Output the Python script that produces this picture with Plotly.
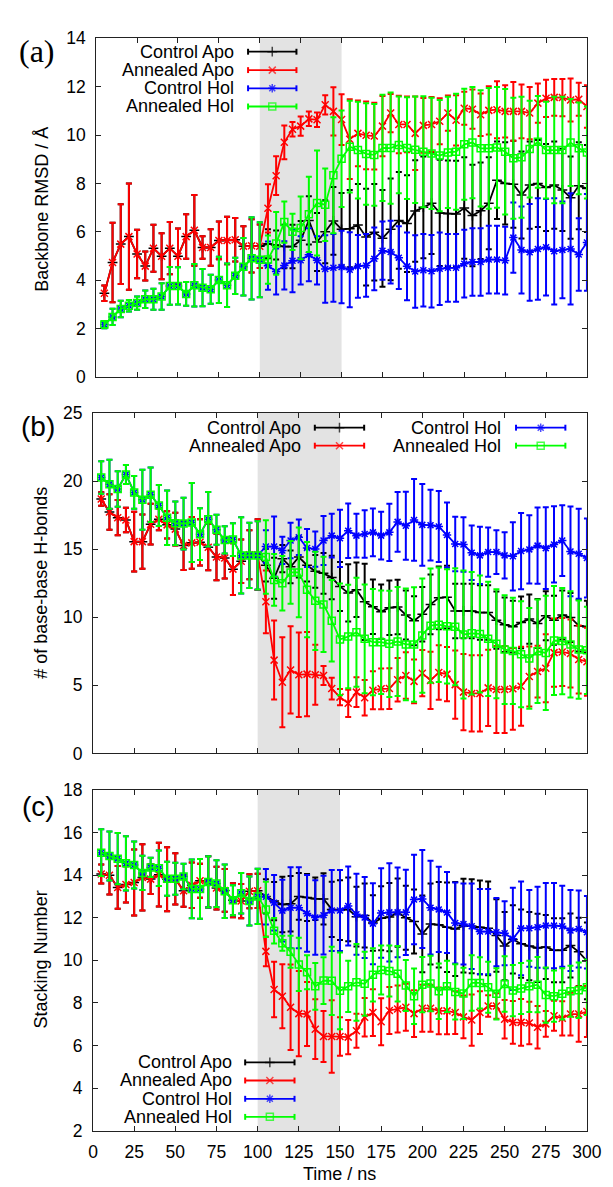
import plotly.graph_objects as go

# ---------------- data ----------------
TIME = [5, 10, 15, 20, 25, 30, 35, 40, 45, 50, 55, 60, 65, 70, 75, 80, 85, 90, 95, 100,
        105, 110, 115, 120, 125, 130, 135, 140, 145, 150, 155, 160, 165, 170, 175, 180, 185, 190, 195, 200,
        205, 210, 215, 220, 225, 230, 235, 240, 245, 250, 255, 260, 265, 270, 275, 280, 285, 290, 295, 300]
X_TICKS = [0, 25, 50, 75, 100, 125, 150, 175, 200, 225, 250, 275, 300]
ANNEAL_WINDOW = [100, 150]
SERIES_NAMES = ["Control Apo", "Annealed Apo", "Control Hol", "Annealed Hol"]
PANEL_LABELS = ["(a)", "(b)", "(c)"]
Y_TITLES = ["Backbone RMSD / Å", "# of base-base H-bonds", "Stacking Number"]
X_TITLE = "Time / ns"

# ---- panel (a): backbone RMSD ----
ANN_APO_A = [3.46, 4.73, 5.49, 5.80, 5.08, 4.58, 5.32, 4.99, 5.32, 4.99,
             5.80, 6.06, 5.35, 5.35, 5.64, 5.64, 5.67, 5.40, 5.42, 5.40,
             6.97, 8.32, 9.70, 10.24, 10.37, 10.67, 10.63, 11.25, 10.98, 10.64,
             9.83, 10.07, 9.99, 9.96, 10.37, 10.91, 10.44, 10.44, 10.07, 10.40,
             10.44, 10.57, 10.91, 10.61, 11.11, 11.07, 10.84, 11.02, 11.05, 10.98,
             10.98, 10.98, 10.91, 11.32, 11.52, 11.56, 11.55, 11.45, 11.48, 11.18]
ERR_ANN_APO_A = [0.32, 1.64, 1.65, 2.2, 1.0, 0.6, 0.97, 0.95, 1.08, 1.15,
                 0.92, 1.46, 0.47, 0.75, 0.78, 0.98, 0.9, 0.83, 1.1, 0.9,
                 1.0, 0.8, 0.7, 0.3, 0.4, 0.3, 0.3, 0.4, 1.0, 1.05,
                 1.65, 1.36, 1.4, 1.38, 1.25, 0.79, 1.19, 1.15, 1.52, 1.13,
                 1.13, 0.95, 0.73, 1.04, 0.68, 0.81, 0.88, 1.0, 1.18, 1.08,
                 1.21, 1.11, 1.08, 0.81, 0.77, 0.76, 0.77, 0.89, 0.68, 0.88]
ANN_HOL_A = [2.16, 2.48, 2.81, 2.94, 3.05, 3.21, 3.21, 3.32, 3.76, 3.76,
             3.43, 3.79, 3.69, 3.62, 4.01, 3.79, 4.18, 4.55, 4.90, 4.84,
             4.85, 5.52, 6.40, 6.00, 6.16, 6.72, 7.19, 7.12, 8.34, 9.02,
             9.52, 9.38, 9.22, 9.18, 9.47, 9.46, 9.59, 9.46, 9.39, 9.31,
             9.24, 9.15, 9.28, 9.31, 9.62, 9.69, 9.45, 9.45, 9.49, 9.31,
             9.04, 9.08, 9.42, 9.72, 9.38, 9.38, 9.38, 9.69, 9.45, 9.28]
ERR_ANN_HOL_A = [0.15, 0.34, 0.34, 0.24, 0.27, 0.36, 0.43, 0.55, 0.78, 0.77,
                 0.49, 0.88, 0.77, 0.6, 0.96, 0.9, 0.75, 1.19, 1.7, 1.55,
                 1.0, 1.3, 0.85, 0.75, 1.3, 1.56, 2.17, 1.5, 2.4, 2.0,
                 1.9, 2.0, 2.1, 2.1, 2.2, 2.3, 2.0, 2.1, 2.2, 2.3,
                 2.3, 2.3, 2.3, 2.4, 2.3, 2.3, 2.4, 2.5, 2.5, 2.6,
                 2.5, 2.5, 2.0, 1.9, 2.0, 2.2, 2.2, 1.8, 1.9, 1.9]
# control runs: identical to the annealed runs up to 100 ns, separate values from 100 ns on
CTRL_APO_A_TAIL = [5.40, 5.50, 5.45, 5.39, 5.39, 5.65, 6.47, 5.58, 6.00, 6.45,
                   6.10, 6.13, 6.28, 5.78, 5.98, 5.73, 6.10, 6.47, 6.34, 6.86,
                   7.01, 7.18, 6.78, 6.75, 6.74, 6.98, 6.67, 6.87, 7.18, 8.13,
                   8.00, 7.97, 7.52, 7.93, 8.00, 7.83, 7.93, 7.73, 7.41, 7.90, 7.79]
ERR_CTRL_APO_A_TAIL = [0.9, 0.6, 0.6, 0.9, 0.9, 0.8, 1.0, 1.2, 1.3, 1.4,
                       1.5, 1.6, 1.7, 2.0, 2.0, 2.0, 2.1, 2.0, 2.0, 2.1,
                       2.1, 2.1, 2.2, 2.2, 2.2, 2.1, 2.1, 2.0, 1.9, 1.6,
                       1.7, 1.8, 1.8, 1.8, 1.8, 1.8, 1.8, 1.7, 1.7, 1.8, 1.8]
CTRL_HOL_A_TAIL = [4.84, 4.60, 4.36, 4.61, 4.80, 4.82, 5.05, 4.82, 4.46, 4.51,
                   4.54, 4.43, 4.57, 4.61, 4.88, 5.22, 5.16, 4.93, 4.57, 4.36,
                   4.41, 4.37, 4.47, 4.51, 4.51, 4.68, 4.75, 4.75, 4.85, 4.85,
                   4.81, 5.76, 5.25, 5.15, 5.29, 5.36, 5.19, 5.25, 5.29, 5.06, 5.56]
ERR_CTRL_HOL_A_TAIL = [1.55, 1.0, 0.95, 1.0, 1.3, 1.0, 1.1, 1.0, 1.4, 1.4,
                       1.5, 1.55, 1.3, 1.3, 1.3, 1.2, 1.3, 1.3, 1.4, 1.5,
                       1.5, 1.5, 1.5, 1.4, 1.4, 1.4, 1.4, 1.4, 1.4, 1.4,
                       1.4, 1.45, 1.8, 2.0, 2.1, 2.0, 2.2, 2.0, 2.3, 1.5, 2.0]

# ---- panel (b): base-base H-bonds ----
ANN_APO_B = [18.68, 17.72, 17.31, 17.14, 15.55, 15.55, 16.83, 17.19, 16.78, 16.47,
             15.26, 15.46, 15.50, 15.14, 14.42, 14.35, 13.53, 14.11, 14.59, 14.59,
             11.13, 6.85, 5.22, 6.13, 5.77, 5.82, 5.77, 5.72, 4.76, 4.13,
             3.68, 4.50, 4.09, 4.64, 4.74, 4.76, 5.41, 5.72, 5.29, 5.89,
             5.36, 5.94, 5.82, 5.05, 4.50, 4.40, 4.40, 4.81, 4.69, 4.69,
             4.74, 4.93, 5.65, 6.01, 6.25, 7.40, 7.45, 7.33, 6.90, 6.73]
ERR_ANN_APO_B = [0.5, 1.3, 1.3, 0.9, 2.2, 2.0, 1.5, 0.8, 1.0, 1.2,
                 1.8, 1.9, 1.7, 1.7, 1.7, 1.5, 1.9, 1.6, 1.8, 2.6,
                 2.3, 2.9, 3.3, 3.2, 3.1, 3.1, 2.2, 0.7, 0.8, 0.6,
                 1.0, 1.1, 1.3, 1.4, 1.5, 1.5, 1.6, 1.7, 1.6, 1.7,
                 2.1, 2.0, 2.0, 2.5, 2.8, 2.8, 2.8, 2.8, 3.2, 3.2,
                 3.0, 2.9, 2.2, 1.9, 2.5, 2.5, 2.5, 2.5, 2.5, 2.5]
ANN_HOL_B = [20.26, 19.76, 19.42, 20.48, 19.16, 18.63, 18.99, 18.20, 17.31, 16.90,
             16.88, 16.95, 16.10, 17.19, 16.42, 15.67, 15.70, 14.54, 14.54, 14.54,
             14.42, 12.74, 12.50, 13.29, 13.29, 12.02, 11.20, 10.94, 9.74, 8.37,
             8.58, 8.89, 8.41, 8.17, 8.17, 8.05, 8.22, 8.00, 8.00, 8.65,
             9.38, 9.45, 9.33, 9.30, 8.73, 8.82, 8.77, 8.41, 8.05, 7.62,
             7.52, 7.28, 6.97, 7.50, 7.38, 8.29, 8.25, 8.00, 7.62, 7.57]
ERR_ANN_HOL_B = [1.2, 1.8, 1.3, 0.7, 1.2, 2.2, 2.0, 1.5, 2.0, 1.6,
                 1.9, 2.9, 1.9, 2.0, 1.1, 1.0, 1.2, 2.8, 2.4, 2.5,
                 2.7, 1.9, 2.0, 2.3, 3.3, 3.5, 3.6, 3.5, 3.0, 4.1,
                 3.8, 4.0, 4.0, 3.9, 3.8, 3.9, 4.0, 4.1, 4.2, 4.2,
                 4.2, 4.2, 4.2, 4.3, 4.7, 4.5, 4.3, 4.2, 4.0, 4.0,
                 3.9, 3.9, 3.7, 3.8, 4.2, 4.0, 3.9, 3.9, 3.6, 3.2]
CTRL_APO_B_TAIL = [14.59, 13.82, 12.86, 14.30, 13.70, 14.42, 13.82, 13.37, 13.22, 12.91,
                   12.26, 11.78, 12.02, 11.13, 10.77, 10.41, 10.70, 10.75, 10.17, 9.74,
                   10.22, 10.94, 11.42, 11.47, 10.46, 10.46, 10.46, 10.34, 10.34, 9.78,
                   9.45, 9.30, 9.62, 9.86, 9.54, 10.10, 9.78, 10.17, 9.98, 9.38, 9.30]
ERR_CTRL_APO_B_TAIL = [2.6, 1.2, 1.5, 1.0, 1.2, 1.5, 1.2, 1.2, 1.5, 1.6,
                       1.8, 2.1, 2.0, 2.8, 2.0, 2.0, 2.0, 2.0, 1.8, 1.8,
                       2.0, 2.2, 2.3, 2.3, 2.0, 2.0, 2.0, 2.0, 2.0, 2.1,
                       2.0, 1.9, 1.9, 1.8, 1.8, 1.8, 1.8, 1.8, 1.8, 1.9, 1.9]
CTRL_HOL_B_TAIL = [14.54, 15.19, 15.19, 14.90, 15.63, 15.87, 15.08, 15.00, 15.63, 15.99,
                   15.79, 16.35, 15.99, 16.11, 16.23, 15.99, 16.23, 17.00, 16.71, 17.14,
                   16.78, 16.76, 16.66, 16.03, 15.38, 15.34, 14.74, 14.54, 14.78, 14.78,
                   14.54, 14.47, 14.86, 14.98, 15.26, 15.07, 15.34, 15.63, 14.83, 14.66, 14.35]
ERR_CTRL_HOL_B_TAIL = [2.5, 1.2, 2.2, 1.0, 1.3, 1.3, 1.4, 1.3, 1.8, 1.6,
                       2.1, 2.0, 1.6, 1.75, 1.75, 1.75, 2.1, 2.2, 2.5, 3.0,
                       3.0, 2.6, 2.6, 2.4, 2.0, 2.0, 2.0, 2.1, 1.8, 1.6,
                       1.7, 2.5, 2.8, 2.5, 2.8, 3.0, 2.8, 2.6, 3.3, 3.3, 2.9]

# ---- panel (c): stacking number ----
ANN_APO_C = [14.05, 13.99, 13.42, 13.56, 13.65, 13.89, 13.81, 14.02, 13.80, 13.82,
             13.26, 13.52, 13.73, 13.68, 13.39, 13.28, 12.82, 12.78, 13.24, 13.26,
             10.42, 8.63, 8.32, 7.80, 7.50, 7.48, 6.77, 6.43, 6.43, 6.43,
             6.40, 6.70, 7.33, 7.55, 7.12, 7.65, 7.72, 7.80, 7.50, 7.75,
             7.75, 7.63, 7.63, 7.55, 7.35, 7.20, 7.55, 7.86, 7.86, 7.24,
             7.09, 7.09, 7.06, 6.86, 7.02, 7.40, 7.28, 7.48, 7.48, 7.60]
ERR_ANN_APO_C = [0.45, 0.9, 1.0, 0.85, 1.55, 1.55, 0.7, 1.5, 1.5, 1.2,
                 0.75, 1.07, 0.8, 1.2, 1.0, 1.0, 0.8, 0.8, 0.8, 0.8,
                 0.7, 1.3, 1.5, 2.0, 2.0, 1.5, 1.4, 1.2, 1.7, 0.9,
                 0.8, 0.8, 0.9, 1.1, 1.1, 1.1, 1.1, 1.1, 1.1, 1.1,
                 1.1, 1.1, 1.1, 1.0, 1.0, 1.2, 1.0, 0.5, 0.6, 0.9,
                 1.0, 1.1, 1.0, 1.0, 0.6, 0.7, 0.8, 1.0, 1.3, 1.2]
ANN_HOL_C = [15.05, 14.89, 14.77, 14.55, 14.47, 14.10, 14.36, 14.32, 13.83, 13.83,
             13.93, 13.35, 13.35, 13.68, 13.60, 13.24, 12.82, 13.15, 12.78, 13.00,
             12.39, 11.39, 10.80, 10.40, 9.81, 9.44, 8.78, 9.05, 9.04, 8.57,
             8.78, 8.97, 8.90, 9.32, 9.55, 9.50, 9.37, 8.82, 8.32, 8.86,
             8.91, 8.55, 8.78, 8.52, 8.45, 8.94, 8.94, 8.74, 8.43, 8.89,
             8.58, 8.68, 8.78, 8.86, 8.37, 8.32, 8.43, 8.55, 8.60, 8.74]
ERR_ANN_HOL_C = [1.1, 1.15, 1.2, 1.27, 1.1, 0.8, 0.45, 0.83, 0.8, 0.75,
                 0.6, 1.38, 1.4, 1.2, 1.1, 1.25, 0.7, 0.95, 1.15, 1.3,
                 1.3, 0.6, 0.35, 0.75, 1.25, 0.8, 1.1, 1.1, 1.6, 1.8,
                 1.2, 1.8, 1.5, 1.25, 1.15, 1.2, 1.3, 1.2, 1.3, 1.3,
                 1.3, 1.3, 1.2, 1.3, 1.2, 1.3, 1.2, 1.2, 1.2, 1.3,
                 1.2, 1.2, 1.2, 1.3, 1.3, 1.2, 1.2, 1.2, 1.3, 1.3]
CTRL_APO_C_TAIL = [13.26, 13.00, 12.78, 12.62, 12.65, 13.00, 12.95, 12.89, 12.88, 12.39,
                   12.36, 12.39, 12.05, 12.10, 11.75, 11.97, 12.03, 12.24, 12.00, 11.82,
                   11.24, 11.70, 11.67, 11.55, 11.47, 11.63, 11.60, 11.55, 11.50, 11.16,
                   10.67, 10.98, 10.78, 10.67, 10.58, 10.63, 10.47, 10.47, 10.70, 10.40, 9.97]
ERR_CTRL_APO_C_TAIL = [0.8, 0.8, 0.9, 1.3, 1.3, 1.1, 1.1, 1.0, 1.2, 1.3,
                       1.4, 1.5, 1.4, 1.5, 1.3, 1.5, 1.6, 1.6, 1.5, 1.5,
                       1.8, 1.9, 2.0, 2.1, 2.2, 2.2, 2.2, 2.2, 2.2, 1.7,
                       1.6, 1.6, 1.6, 1.6, 1.6, 1.5, 1.5, 1.5, 1.5, 1.6, 1.8]
CTRL_HOL_C_TAIL = [13.00, 12.98, 12.70, 12.33, 12.47, 12.47, 12.20, 12.01, 12.12, 12.34,
                   12.34, 12.55, 12.16, 12.01, 11.72, 12.22, 12.25, 12.25, 12.25, 12.85,
                   12.88, 12.47, 12.39, 12.24, 11.75, 11.70, 11.60, 11.35, 11.35, 11.32,
                   11.27, 11.01, 11.50, 11.50, 11.55, 11.63, 11.63, 11.60, 11.40, 11.47, 11.32]
ERR_CTRL_HOL_C_TAIL = [1.3, 1.3, 1.3, 1.45, 1.9, 1.9, 1.8, 1.75, 1.85, 1.9,
                       1.9, 1.85, 1.9, 1.9, 1.9, 2.1, 2.3, 2.1, 2.0, 2.1,
                       2.3, 2.2, 2.0, 1.9, 1.9, 1.9, 2.0, 2.0, 2.0, 1.6,
                       1.5, 2.4, 2.2, 1.8, 1.9, 2.0, 2.0, 1.9, 1.9, 1.8, 1.7]

Y_RANGES = [[0, 14], [0, 25], [2, 18]]
Y_DTICKS = [2, 5, 2]

# ---------------- styling ----------------
W, H = 613, 1187
COLORS = ["#000000", "#ff0000", "#0000ff", "#00ff00"]
SYMBOLS = ["cross-thin-open", "x-thin-open", "asterisk-open", "square-open"]
MSIZES = [7, 7, 7, 7]
FONT = "'Liberation Sans', Arial, Helvetica, sans-serif"
FRAME = "#222222"
TICK_SIZE = 17.5
KEY_SIZE = 18
TITLE_SIZE = 18
LINE_W = 1.8
ERR_W = 2.0

# panel rectangles in pixels: (left, right, top, bottom)
PANELS = [(86.0, 593.3, 20.7, 365.0),
          (82.7, 593.3, 401.7, 748.0),
          (82.7, 593.3, 785.0, 1132.0)]


def fx(px):
    return px / W


def fy(py):
    return 1 - py / H


N_PRE = TIME.index(100)  # points strictly before 100 ns
series_per_panel = []
for ann_apo, e_ann_apo, ann_hol, e_ann_hol, c_apo, e_c_apo, c_hol, e_c_hol in [
    (ANN_APO_A, ERR_ANN_APO_A, ANN_HOL_A, ERR_ANN_HOL_A,
     CTRL_APO_A_TAIL, ERR_CTRL_APO_A_TAIL, CTRL_HOL_A_TAIL, ERR_CTRL_HOL_A_TAIL),
    (ANN_APO_B, ERR_ANN_APO_B, ANN_HOL_B, ERR_ANN_HOL_B,
     CTRL_APO_B_TAIL, ERR_CTRL_APO_B_TAIL, CTRL_HOL_B_TAIL, ERR_CTRL_HOL_B_TAIL),
    (ANN_APO_C, ERR_ANN_APO_C, ANN_HOL_C, ERR_ANN_HOL_C,
     CTRL_APO_C_TAIL, ERR_CTRL_APO_C_TAIL, CTRL_HOL_C_TAIL, ERR_CTRL_HOL_C_TAIL),
]:
    ctrl_apo = ann_apo[:N_PRE] + c_apo
    ectrl_apo = e_ann_apo[:N_PRE] + e_c_apo
    ctrl_hol = ann_hol[:N_PRE] + c_hol
    ectrl_hol = e_ann_hol[:N_PRE] + e_c_hol
    series_per_panel.append([(ctrl_apo, ectrl_apo), (ann_apo, e_ann_apo),
                             (ctrl_hol, ectrl_hol), (ann_hol, e_ann_hol)])

fig = go.Figure()
axis_suffix = ["", "2", "3"]
for p, series in enumerate(series_per_panel):
    for s, (vals, errs) in enumerate(series):
        fig.add_trace(go.Scatter(
            x=TIME, y=vals, mode="lines+markers", name=SERIES_NAMES[s], showlegend=False,
            xaxis="x" + axis_suffix[p], yaxis="y" + axis_suffix[p],
            line=dict(color=COLORS[s], width=LINE_W),
            marker=dict(symbol=SYMBOLS[s], size=MSIZES[s], color=COLORS[s],
                        line=dict(color=COLORS[s], width=1.5)),
            error_y=dict(type="data", array=errs, visible=True, color=COLORS[s],
                         thickness=ERR_W, width=3),
            cliponaxis=True,
        ))

# ---------------- axes ----------------
layout = dict(
    width=W, height=H, margin=dict(l=0, r=0, t=0, b=0),
    paper_bgcolor="white", plot_bgcolor="rgba(0,0,0,0)",
    showlegend=False, font=dict(family=FONT, size=TICK_SIZE, color="black"),
)
for p in range(3):
    l, r, t, b = PANELS[p]
    xa = dict(domain=[fx(l), fx(r)], range=[0, 300], tickmode="array", tickvals=X_TICKS,
              ticks="inside", ticklen=5, tickwidth=1, tickcolor=FRAME,
              showline=True, linecolor=FRAME, linewidth=1, mirror="allticks",
              showgrid=False, zeroline=False, showticklabels=(p == 2),
              anchor="y" + axis_suffix[p],
              tickfont=dict(family=FONT, size=TICK_SIZE, color="black"), ticklabelstandoff=5)
    ya = dict(domain=[fy(b), fy(t)], range=Y_RANGES[p], dtick=Y_DTICKS[p], tick0=0,
              ticks="inside", ticklen=5, tickwidth=1, tickcolor=FRAME,
              showline=True, linecolor=FRAME, linewidth=1, mirror="allticks",
              showgrid=False, zeroline=False, anchor="x" + axis_suffix[p],
              tickfont=dict(family=FONT, size=TICK_SIZE, color="black"), ticklabelstandoff=6)
    layout["xaxis" + axis_suffix[p]] = xa
    layout["yaxis" + axis_suffix[p]] = ya

# overlay axis in pixel units for the gnuplot-style keys
layout["xaxis4"] = dict(domain=[0, 1], range=[0, W], visible=False, fixedrange=True, anchor="y4")
layout["yaxis4"] = dict(domain=[0, 1], range=[H, 0], visible=False, fixedrange=True, anchor="x4")
fig.update_layout(**layout)

# shaded annealing window
shapes = []
for p in range(3):
    shapes.append(dict(type="rect", xref="x" + axis_suffix[p], yref="y" + axis_suffix[p] + " domain",
                       x0=ANNEAL_WINDOW[0], x1=ANNEAL_WINDOW[1], y0=0, y1=1,
                       fillcolor="#e3e3e3", line=dict(width=0), layer="below"))
fig.update_layout(shapes=shapes)

# ---------------- keys ----------------
# (text right edge, sample x0, sample x1, row y) per entry
KEYS = [
    [(231, 243, 293, 34.3), (231, 243, 293, 53.0), (231, 243, 293, 71.5), (231, 243, 293, 90.0)],
    [(300, 312, 363, 416.7), (300, 312, 363, 435.0), (507, 520, 571, 416.7), (507, 520, 571, 435.0)],
    [(228, 240, 291, 1062.3), (228, 240, 291, 1080.7), (228, 240, 291, 1099.3), (228, 240, 291, 1117.7)],
]
annotations = []
for p in range(3):
    for s in range(4):
        tx, x0, x1, yy = KEYS[p][s]
        annotations.append(dict(xref="x4", yref="y4", x=tx, y=yy, text=SERIES_NAMES[s],
                                showarrow=False, xanchor="right", yanchor="middle",
                                font=dict(family=FONT, size=KEY_SIZE, color="black")))
        fig.add_trace(go.Scatter(
            x=[x0, (x0 + x1) / 2, x1], y=[yy, yy, yy], xaxis="x4", yaxis="y4",
            mode="lines+markers", showlegend=False, hoverinfo="skip",
            line=dict(color=COLORS[s], width=LINE_W),
            marker=dict(symbol=SYMBOLS[s], size=[0, MSIZES[s], 0], color=COLORS[s],
                        line=dict(color=COLORS[s], width=1.5)),
            error_y=dict(type="data", array=[3, 0, 3], visible=True, color=COLORS[s],
                         thickness=ERR_W, width=0),
        ))

# panel labels
PANEL_LABEL_POS = [(25, 34), (26, 415), (26, 802)]
PANEL_LABEL_FONTS = ["'Liberation Serif', 'DejaVu Serif', serif", FONT, FONT]
PANEL_LABEL_SIZES = [32, 28, 28]
for p in range(3):
    annotations.append(dict(xref="paper", yref="paper", x=fx(PANEL_LABEL_POS[p][0]),
                            y=fy(PANEL_LABEL_POS[p][1]), text=PANEL_LABELS[p], showarrow=False,
                            xanchor="center", yanchor="middle",
                            font=dict(family=PANEL_LABEL_FONTS[p], size=PANEL_LABEL_SIZES[p],
                                      color="black")))

# axis titles
Y_TITLE_POS = [(30, 195), (29.5, 575), (28.5, 958)]
for p in range(3):
    annotations.append(dict(xref="paper", yref="paper", x=fx(Y_TITLE_POS[p][0]),
                            y=fy(Y_TITLE_POS[p][1]), text=Y_TITLES[p], textangle=-90,
                            showarrow=False, xanchor="center", yanchor="middle",
                            font=dict(family=FONT, size=TITLE_SIZE, color="black")))
annotations.append(dict(xref="paper", yref="paper", x=fx(338), y=fy(1176), text=X_TITLE,
                        showarrow=False, xanchor="center", yanchor="middle",
                        font=dict(family=FONT, size=TITLE_SIZE, color="black")))
fig.update_layout(annotations=annotations)

fig.write_html("out.html")
